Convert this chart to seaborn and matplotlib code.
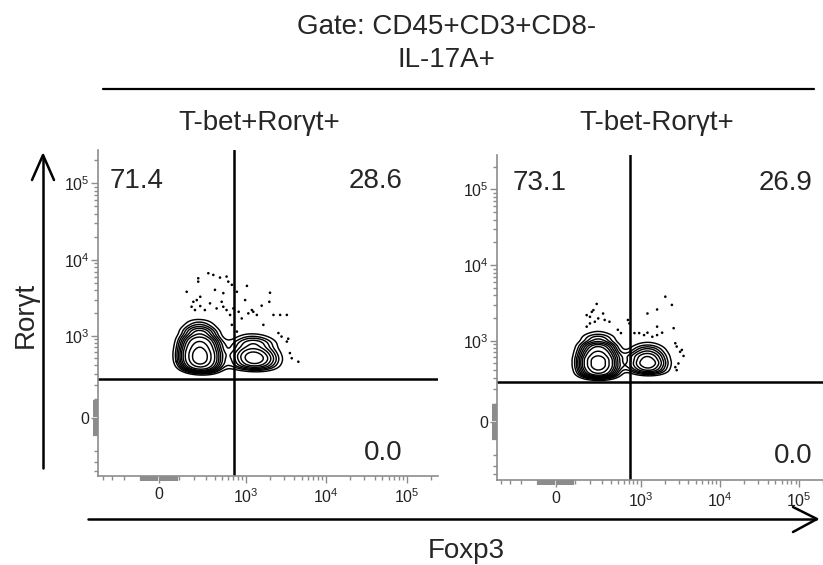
import numpy as np
import pandas as pd
import matplotlib
matplotlib.use("Agg")
import matplotlib.pyplot as plt
from matplotlib.lines import Line2D
import seaborn as sns

# ---------------- data (values in fluorescence units) ----------------
COFACTOR = 170.0
major_tick_values = [0, 1e3, 1e4, 1e5]
major_tick_labels = ["0", r"$10^{3}$", r"$10^{4}$", r"$10^{5}$"]

gate_title = "Gate: CD45+CD3+CD8-\nIL-17A+"
panel_titles = ["T-bet+Rorγt+", "T-bet-Rorγt+"]
x_label = "Foxp3"
y_label = "Rorγt"

left_pcts = ["71.4", "28.6", "0.0"]
right_pcts = ["73.1", "26.9", "0.0"]
left_gate = (713, 248)
right_gate = (714, 264)

# density sites (Foxp3 columns, Rorgt rows, relative weights)
left_A_cols = [195, 246, 310]
left_A_rows = [383, 474, 585, 721, 884, 1139, 1464]
left_A_w = [[0.50, 0.80, 0.50],
            [0.80, 1.00, 0.80],
            [0.80, 1.00, 0.80],
            [0.60, 0.80, 0.60],
            [0.45, 0.60, 0.45],
            [0.25, 0.35, 0.25],
            [0.08, 0.12, 0.08]]
left_B_cols = [978, 1260, 1620, 2083]
left_B_rows = [404, 500, 617, 797, 978]
left_B_w = [[0.25, 0.35, 0.25, 0.10],
            [0.35, 0.45, 0.35, 0.15],
            [0.30, 0.35, 0.25, 0.10],
            [0.20, 0.25, 0.18, 0.07],
            [0.07, 0.08, 0.05, 0.02]]
left_bridge_cols = [684]
left_bridge_rows = [404, 556, 758]
left_bridge_w = [[0.12], [0.12], [0.10]]

right_A_cols = [200, 266, 345]
right_A_rows = [362, 450, 556, 684, 840, 1083, 1393]
right_A_w = [[0.60, 0.90, 0.60],
             [0.90, 1.20, 0.90],
             [0.90, 1.20, 0.90],
             [0.60, 0.80, 0.60],
             [0.40, 0.55, 0.40],
             [0.15, 0.22, 0.15],
             [0.03, 0.05, 0.03]]
right_B_cols = [978, 1260, 1620]
right_B_rows = [404, 500, 617, 758, 930]
right_B_w = [[0.30, 0.45, 0.25],
             [0.45, 0.60, 0.35],
             [0.35, 0.45, 0.25],
             [0.18, 0.25, 0.12],
             [0.04, 0.06, 0.03]]
right_bridge_cols = [684]
right_bridge_rows = [450, 617]
right_bridge_w = [[0.15], [0.15]]

# outlier events
left_dots_x = [327, 383, 233, 470, 573, 233, 603, 149, 670, 1040, 403, 520, 250, 777, 2020,
               221, 195, 495, 987, 345, 182, 250, 1590, 424, 520, 1980, 1200, 207, 292, 573,
               700, 818, 1250, 636, 1083, 1384, 2230, 2700, 3270, 895, 1670, 670, 777, 2570,
               2810, 3400, 3270, 3570, 3760, 4540, 89]
left_dots_y = [6650, 6320, 5710, 5830, 6010, 5160, 5160, 3800, 4690, 4540, 4030, 3650, 3270, 3800, 3690,
               2960, 2810, 2810, 2960, 2680, 2420, 2470, 2500, 2300, 2420, 2810, 2190, 2190, 2190, 2190,
               2300, 2080, 2080, 1890, 1980, 1890, 1890, 1890, 1890, 1700, 1400, 1400, 1140, 1090,
               980, 917, 840, 588, 500, 447, 447]
right_dots_x = [252, 173, 197, 211, 224, 313, 266, 236, 197, 330, 385, 173, 500, 550, 678, 710,
                825, 948, 1095, 1210, 1395, 1605, 1860, 2040, 2470, 1605, 1210, 1605, 2600, 2730,
                2840, 3140, 3470, 2990, 2730, 2840, 3300]
right_dots_y = [3080, 2190, 2080, 2420, 2550, 2300, 1980, 1790, 1700, 1890, 1790, 1540, 1400, 1265,
                1890, 1700, 1265, 1265, 1190, 1280, 1130, 1190, 1280, 3840, 2990, 2600, 2300, 1540,
                1470, 925, 835, 710, 623, 490, 435, 394, 752]

LEVELS = [0.04, 0.08, 0.13, 0.19, 0.26, 0.34, 0.44, 0.56, 0.70, 0.85]
BW = 0.38


def tf(v):
    return np.arcsinh(np.asarray(v, dtype=float) / COFACTOR)


def sites_table(blocks):
    frames = []
    for cols, rows, w in blocks:
        cc, rr = np.meshgrid(cols, rows)
        frames.append(pd.DataFrame({"x": tf(cc.ravel()), "y": tf(rr.ravel()),
                                    "w": np.asarray(w, float).ravel()}))
    return pd.concat(frames, ignore_index=True)


left_sites = sites_table([(left_A_cols, left_A_rows, left_A_w),
                          (left_B_cols, left_B_rows, left_B_w),
                          (left_bridge_cols, left_bridge_rows, left_bridge_w)])
right_sites = sites_table([(right_A_cols, right_A_rows, right_A_w),
                           (right_B_cols, right_B_rows, right_B_w),
                           (right_bridge_cols, right_bridge_rows, right_bridge_w)])

dense_values = list(range(-90, 0, 10)) + list(range(10, 100, 10))
minor_values = [-400, -300, -200] + list(range(100, 1000, 100)) + \
    list(range(2000, 10000, 1000)) + list(range(20000, 100000, 10000)) + [200000]

# ---------------- style ----------------
sns.set_style("white")
plt.rcParams["font.family"] = ["Liberation Sans", "DejaVu Sans"]
plt.rcParams["mathtext.fontset"] = "custom"
plt.rcParams["mathtext.rm"] = "Liberation Sans"
plt.rcParams["mathtext.it"] = "Liberation Sans:italic"
plt.rcParams["mathtext.bf"] = "Liberation Sans:bold"

W, H = 823, 565
fig = plt.figure(figsize=(W / 100, H / 100), dpi=100)


def fx(px):
    return px / W


def fy(py):
    return 1 - py / H


AXGRAY = "#8c8c8c"


def draw_panel(rect, sites, dx, dy, gate, pcts, xlim_v, ylim_v, txt_pos):
    ax = fig.add_axes(rect)
    sns.kdeplot(data=sites, x="x", y="y", weights="w", levels=LEVELS, bw_method=BW,
                color="black", linewidths=1.05, gridsize=250, ax=ax)
    sns.scatterplot(x=tf(dx), y=tf(dy), s=3.5, color="black", edgecolor="none",
                    linewidth=0, ax=ax)
    ax.axvline(tf(gate[0]), color="black", lw=1.8)
    ax.axhline(tf(gate[1]), color="black", lw=1.8)
    ax.set_xlim(tf(xlim_v))
    ax.set_ylim(tf(ylim_v))
    for setter in (ax.set_xticks, ax.set_yticks):
        setter(tf(major_tick_values), major_tick_labels)
        setter(tf(minor_values), minor=True)
    ax.tick_params(which="both", direction="out", color=AXGRAY, width=1,
                   bottom=True, left=True, top=False, right=False,
                   labelsize=11.5, labelcolor="#222222")
    ax.tick_params(which="major", length=5)
    ax.tick_params(which="minor", length=3)
    ax.tick_params(axis="x", which="major", pad=3)
    ax.tick_params(axis="y", which="major", pad=1)
    # dense tick block around zero (linear region of the scale)
    zt = tf(dense_values)
    for z in zt:
        ax.plot([z, z], [0, -0.016], transform=ax.get_xaxis_transform(), color=AXGRAY,
                lw=1.6, clip_on=False, solid_capstyle="butt")
        ax.plot([0, -0.016], [z, z], transform=ax.get_yaxis_transform(), color=AXGRAY,
                lw=1.6, clip_on=False, solid_capstyle="butt")
    for s in ("top", "right"):
        ax.spines[s].set_visible(False)
    for s in ("left", "bottom"):
        ax.spines[s].set_color(AXGRAY)
        ax.spines[s].set_linewidth(1.2)
    ax.set_xlabel("")
    ax.set_ylabel("")
    (x1, y1), (x2, y2), (x3, y3) = txt_pos
    ax.text(x1, y1, pcts[0], transform=ax.transAxes, fontsize=20, ha="left", va="baseline")
    ax.text(x2, y2, pcts[1], transform=ax.transAxes, fontsize=20, ha="right", va="baseline")
    ax.text(x3, y3, pcts[2], transform=ax.transAxes, fontsize=20, ha="right", va="baseline")
    return ax


draw_panel([fx(98), fy(476), (438 - 98) / W, (476 - 150) / H], left_sites,
           left_dots_x, left_dots_y, left_gate, left_pcts,
           (-470, 245000), (-473, 272000),
           [(0.035, 0.883), (0.897, 0.883), (0.897, 0.049)])
draw_panel([fx(497), fy(480), (823 - 497) / W, (480 - 155) / H], right_sites,
           right_dots_x, right_dots_y, right_gate, right_pcts,
           (-456, 170000), (-480, 285000),
           [(0.049, 0.892), (0.969, 0.892), (0.969, 0.052)])

# ---------------- figure-level annotations ----------------
title_lines = gate_title.split("\n")
fig.text(fx(446.5), fy(34), title_lines[0], fontsize=20, ha="center", va="baseline")
fig.text(fx(446.5), fy(67), title_lines[1], fontsize=20, ha="center", va="baseline")
fig.add_artist(Line2D([fx(103), fx(814)], [fy(89), fy(89)], color="black", lw=1.6))
fig.text(fx(259), fy(130), panel_titles[0], fontsize=20, ha="center", va="baseline")
fig.text(fx(657), fy(130), panel_titles[1], fontsize=20, ha="center", va="baseline")

# axis arrows
fig.add_artist(Line2D([fx(43), fx(43)], [fy(468), fy(156)], color="black", lw=1.8))
fig.add_artist(Line2D([fx(32), fx(43), fx(54)], [fy(180), fy(155), fy(180)],
                      color="black", lw=1.8))
fig.add_artist(Line2D([fx(88), fx(816)], [fy(519), fy(519)], color="black", lw=1.8))
fig.add_artist(Line2D([fx(793), fx(817), fx(793)], [fy(507), fy(519), fy(532)],
                      color="black", lw=1.8))
fig.text(fx(466), fy(558), x_label, fontsize=20, ha="center", va="baseline")
fig.text(fx(33), fy(315), y_label, fontsize=20, rotation=90, ha="center", va="baseline",
         rotation_mode="anchor")

fig.savefig("out.png", dpi=100)
